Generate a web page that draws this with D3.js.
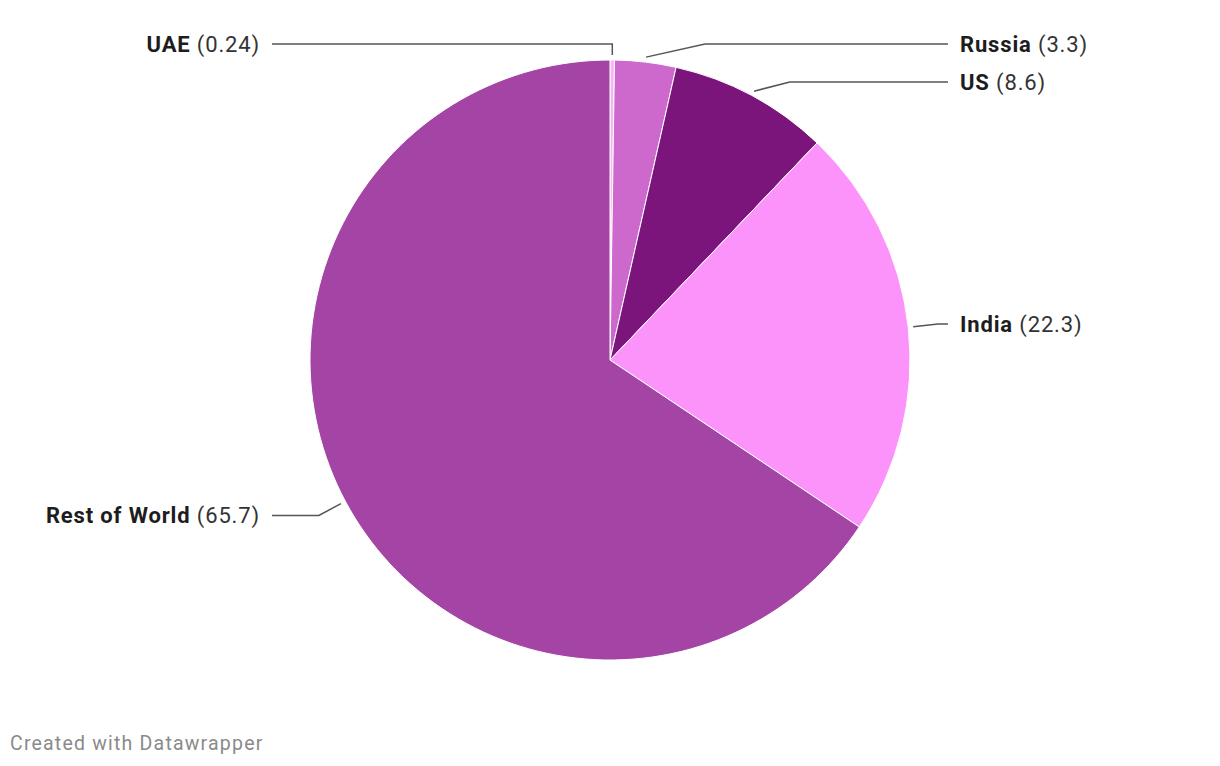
<!DOCTYPE html>
<html lang="en">
<head>
<meta charset="UTF-8">
<title>Pie chart</title>
<style>
  body { margin: 0; background: #fff; font-family: Roboto, "Noto Sans", sans-serif; }
  svg text { font-family: Roboto, sans-serif; }
</style>
</head>
<body>
<svg id="chart" width="1220" height="766"></svg>
<script src="https://cdn.jsdelivr.net/npm/d3@7"></script>
<script>
// data
const countries = ["UAE", "Russia", "US", "India", "Rest of World"];
const shares = [0.24, 3.3, 8.6, 22.3, 65.7];
const colors = ["#f5b5f5", "#cd69cd", "#7b157b", "#fb93fb", "#a444a4"];

const width = 1220, height = 766;
const cx = 610, cy = 360, radius = 300;

const svg = d3.select("#chart");
const g = svg.append("g").attr("transform", `translate(${cx},${cy})`);

const data = countries.map((c, i) => ({ name: c, value: shares[i], color: colors[i] }));

const pie = d3.pie().value(d => d.value).sort(null);
const arc = d3.arc().innerRadius(0).outerRadius(radius);
const arcs = pie(data);

g.selectAll("path.slice")
  .data(arcs)
  .enter().append("path")
    .attr("class", "slice")
    .attr("d", arc)
    .attr("fill", d => d.data.color)
    .attr("stroke", "white")
    .attr("stroke-width", 1);

// label layout
const labelR = 330, startR = 305, colOffset = 350, spacing = 38, minY = 44 - cy;
const labels = arcs.map(a => {
  const m = (a.startAngle + a.endAngle) / 2;
  const s = Math.sin(m), c = Math.cos(m);
  return {
    d: a.data, m,
    side: s > 0.05 ? 1 : -1,
    sx: startR * s, sy: -startR * c,
    ix: labelR * s, iy: -labelR * c,
    y: Math.max(minY, -labelR * c)
  };
});

// push labels apart per side
[1, -1].forEach(side => {
  const list = labels.filter(l => l.side === side).sort((a, b) => a.y - b.y);
  for (let i = 1; i < list.length; i++) {
    if (list[i].y - list[i - 1].y < spacing) list[i].y = list[i - 1].y + spacing;
  }
});

labels.forEach(l => {
  const dy = l.y - l.iy;
  let shift = 0;
  if (Math.abs(dy) > 0.5) {
    shift = dy / Math.tan(l.m);           // slide along tangent
    if (l.side === 1) shift = Math.min(Math.max(shift, 0), 56);
    else shift = 0;
  }
  l.bx = l.side === 1 ? l.ix + shift : (Math.abs(dy) > 0.5 ? l.sx : l.ix);
  l.ex = l.side * (colOffset - 12);
});

g.selectAll("polyline.leader")
  .data(labels)
  .enter().append("polyline")
    .attr("class", "leader")
    .attr("points", l => `${l.sx},${l.sy} ${l.bx},${l.y} ${l.ex},${l.y}`)
    .attr("fill", "none")
    .attr("stroke", "#555")
    .attr("stroke-width", 1.5);

const txt = g.selectAll("text.lbl")
  .data(labels)
  .enter().append("text")
    .attr("class", "lbl")
    .attr("x", l => l.side * colOffset)
    .attr("y", l => l.y)
    .attr("dy", "0.35em")
    .attr("text-anchor", l => l.side === 1 ? "start" : "end")
    .attr("font-size", 22)
    .attr("letter-spacing", 0.85)
    .attr("fill", "#1d1d1d");

txt.append("tspan").attr("font-weight", 700).text(l => l.d.name);
txt.append("tspan").attr("fill", "#333").text(l => ` (${l.d.value})`);

svg.append("text")
  .attr("x", 10)
  .attr("y", 750)
  .attr("font-size", 19.5)
  .attr("letter-spacing", 1.2)
  .attr("fill", "#8a8a8a")
  .text("Created with Datawrapper");
</script>
</body>
</html>
